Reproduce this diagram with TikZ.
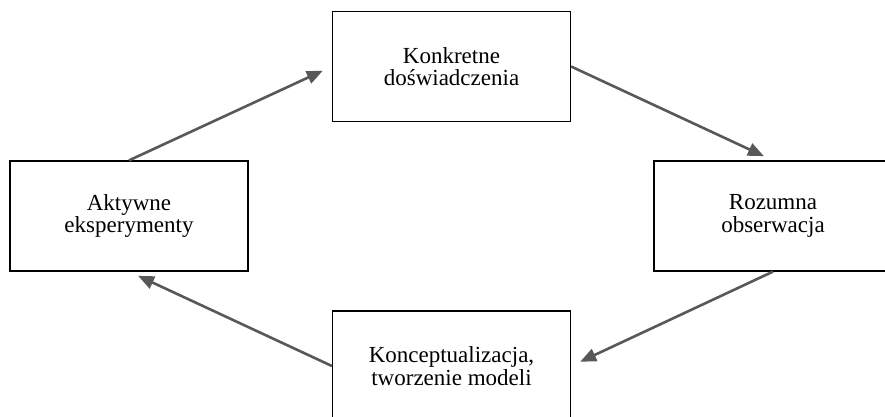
\documentclass[tikz,border=0pt]{standalone}
\usepackage{fontspec}
\setmainfont{Liberation Serif}
\usetikzlibrary{arrows.meta}
\definecolor{arrowgray}{RGB}{88,88,88}
\begin{document}
\begin{tikzpicture}[x=1pt,y=-1pt,
  stagebox/.style={draw=black, line width=1.2pt, minimum width=238pt,
    minimum height=110pt, inner sep=0pt, align=center,
    font=\fontsize{23}{22.5}\selectfont},
  cyclearrow/.style={draw=arrowgray, line width=2.6pt,
    -{Triangle[length=16pt,width=13pt]}, shorten >=10pt}]
  \useasboundingbox (0,0) rectangle (885,417);
  \node[stagebox] (top)    at (451.5,66.5) {Konkretne\\doświadczenia};
  \node[stagebox] (right)  at (773,216)    {Rozumna\\obserwacja};
  \node[stagebox] (bottom) at (451.5,366)  {Konceptualizacja,\\tworzenie modeli};
  \node[stagebox] (left)   at (129,216)    {Aktywne\\eksperymenty};
  \draw[cyclearrow] (left.north)   -- (top.west);
  \draw[cyclearrow] (top.east)     -- (right.north);
  \draw[cyclearrow] (right.south)  -- (bottom.east);
  \draw[cyclearrow] (bottom.west)  -- (left.south);
\end{tikzpicture}
\end{document}
